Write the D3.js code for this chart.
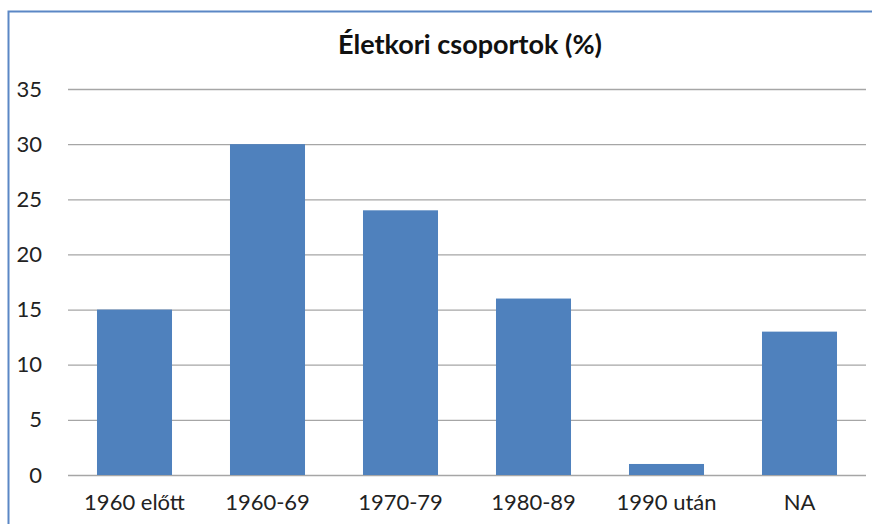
<!DOCTYPE html>
<html><head><meta charset="utf-8">
<script src="https://cdn.jsdelivr.net/npm/d3@7"></script>
<style>body{margin:0;background:#fff}svg{display:block}</style>
</head><body>
<script>
const categories = ["1960 előtt","1960-69","1970-79","1980-89","1990 után","NA"];
const values = [15,30,24,16,1,13];
const yTicks = [0,5,10,15,20,25,30,35];
const title = "Életkori csoportok (%)";

(function(){
const W=872,H=524;
const svg=d3.select("body").append("svg").attr("width",W).attr("height",H);
svg.append("rect").attr("width",W).attr("height",H).attr("fill","#fff");
svg.append("path").attr("d",`M8.5,${H+2} V11.5 H${W+2}`).attr("fill","none").attr("stroke","#5b87c5").attr("stroke-width",2);

const pl=68,pr=866,pt=89,pb=475;
const x=d3.scaleBand().domain(categories).range([pl,pr]).paddingInner(0.436).paddingOuter(0.218);
const y=d3.scaleLinear().domain([0,35]).range([pb,pt]);
const font="Lato, 'Open Sans', sans-serif";

const ya=svg.append("g").attr("transform",`translate(${pl},0)`)
  .call(d3.axisLeft(y).tickValues(yTicks).tickSize(-(pr-pl)).tickPadding(26));
ya.select(".domain").remove();
ya.selectAll(".tick line").attr("stroke","#a6a6a6").attr("stroke-width",1.3);
ya.selectAll(".tick text").attr("font-family",font).attr("font-size",22).attr("fill","#222");

svg.append("g").selectAll("rect").data(values).join("rect")
  .attr("x",(d,i)=>x(categories[i])).attr("width",x.bandwidth())
  .attr("y",d=>y(d)).attr("height",d=>y(0)-y(d)).attr("fill","#4f81bd");

const xa=svg.append("g").attr("transform",`translate(0,${pb})`)
  .call(d3.axisBottom(x).tickSize(0).tickPadding(19));
xa.select(".domain").remove();
xa.selectAll(".tick text").attr("font-family",font).attr("font-size",22).attr("fill","#222");

svg.append("text").attr("x",470).attr("y",54).attr("text-anchor","middle")
  .attr("font-family",font).attr("font-weight","bold").attr("font-size",27).attr("fill","#111").text(title);
})();
</script>
</body></html>
